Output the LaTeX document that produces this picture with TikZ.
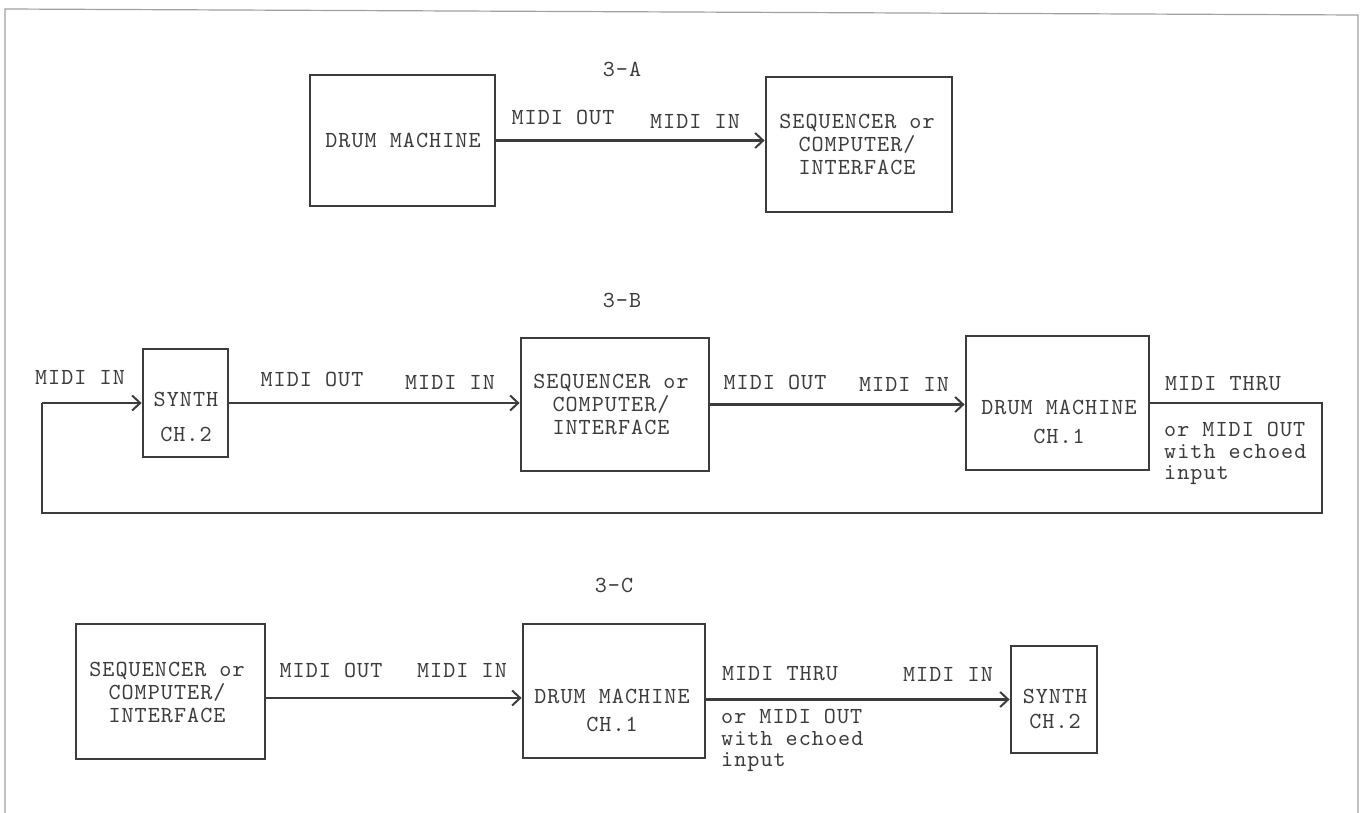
\documentclass[tikz,border=0pt]{standalone}
\usepackage{fontspec}
\setmonofont{lmmono10-regular.otf}[LetterSpace=4.5]
\usetikzlibrary{arrows.meta}
\definecolor{ink}{HTML}{3C3C3C}
\definecolor{framec}{HTML}{A0A0A0}
\begin{document}
\begin{tikzpicture}[x=1pt,y=-1pt,
  box/.style={draw=ink, line width=2.8pt, rectangle, inner sep=0pt},
  txt/.style={font=\ttfamily\fontsize{23}{23}\selectfont, text=ink, inner sep=0pt, align=center},
  ltxt/.style={font=\ttfamily\fontsize{23}{21.5}\selectfont, text=ink, inner sep=0pt, align=left, anchor=north west},
  conn/.style={draw=ink, line width=2.4pt, -{Straight Barb[length=8pt,width=15pt,line width=2pt]}},
  loopline/.style={draw=ink, line width=2pt},
  frame/.style={draw=framec, line width=1.2pt}
]
\useasboundingbox (0,0) rectangle (1361,813);
\fill[white] (0,0) rectangle (1361,813);
\draw[frame] (5,813) -- (5,9) -- (1358,15) -- (1358,813);

% ---------- 3-A ----------
\node[txt] (tA) at (622,69) {3-A};
\node[box, minimum width=185pt, minimum height=131pt] (A1) at (402.5,140.5) {};
\node[txt] (A1t) at (403,140) {DRUM MACHINE};
\node[box, minimum width=186pt, minimum height=135pt] (A2) at (859,144.5) {};
\node[txt] (A2t) at (857,144) {SEQUENCER or\\COMPUTER/\\INTERFACE};
\draw[conn] (A1.east) -- (A1.east -| A2.west);
\node[txt] (A1o) at (563,117) {MIDI OUT};
\node[txt] (A2i) at (695,121) {MIDI IN};

% ---------- 3-B ----------
\node[txt] (tB) at (622,300) {3-B};
\node[box, minimum width=85pt, minimum height=108pt] (B1) at (185.5,403) {};
\node[txt, font=\ttfamily\fontsize{23}{35}\selectfont] (B1t) at (186,416.5) {SYNTH\\CH.2};
\node[box, minimum width=188pt, minimum height=133pt] (B2) at (615,404.5) {};
\node[txt] (B2t) at (611,404.5) {SEQUENCER or\\COMPUTER/\\INTERFACE};
\node[box, minimum width=183pt, minimum height=134pt] (B3) at (1057.5,403) {};
\node[txt, font=\ttfamily\fontsize{23}{29}\selectfont] (B3t) at (1059,421.5) {DRUM MACHINE\\CH.1};
\draw[conn] (B1.east) -- (B1.east -| B2.west);
\draw[conn] (B2.east) -- (B2.east -| B3.west);
\coordinate (loopR) at (1322,513);
\coordinate (loopL) at (42,513);
\draw[loopline] (B3.east) -- (B3.east -| loopR) -- (loopR) -- (loopL) -- (loopL |- B1.west);
\draw[conn] (loopL |- B1.west) -- (B1.west);
\node[txt] (B1i) at (80,377) {MIDI IN};
\node[txt] (B1o) at (312,379) {MIDI OUT};
\node[txt] (B2i) at (450,382) {MIDI IN};
\node[txt] (B2o) at (775,382) {MIDI OUT};
\node[txt] (B3i) at (904,384) {MIDI IN};
\node[txt] (B3o) at (1223,384) {MIDI THRU};
\node[ltxt] (B3n) at (1164,422) {or MIDI OUT\\with echoed\\input};

% ---------- 3-C ----------
\node[txt] (tC) at (614,585) {3-C};
\node[box, minimum width=189pt, minimum height=135pt] (C1) at (170.5,691.5) {};
\node[txt] (C1t) at (167,692) {SEQUENCER or\\COMPUTER/\\INTERFACE};
\node[box, minimum width=182pt, minimum height=134pt] (C2) at (614,691) {};
\node[txt, font=\ttfamily\fontsize{23}{28}\selectfont] (C2t) at (612,710) {DRUM MACHINE\\CH.1};
\node[box, minimum width=86pt, minimum height=107pt] (C3) at (1054,699.5) {};
\node[txt, font=\ttfamily\fontsize{23}{25}\selectfont] (C3t) at (1055,708.5) {SYNTH\\CH.2};
\draw[conn] ([yshift=-6.5pt]C1.east) -- ([yshift=-6.5pt]C1.east -| C2.west);
\draw[conn] (C2.east |- C3.west) -- (C3.west);
\node[txt] (C1o) at (331,670) {MIDI OUT};
\node[txt] (C2i) at (462,670) {MIDI IN};
\node[txt] (C2o) at (780,674) {MIDI THRU};
\node[txt] (C3i) at (948,674) {MIDI IN};
\node[ltxt] (C2n) at (721,709) {or MIDI OUT\\with echoed\\input};
\end{tikzpicture}
\end{document}
